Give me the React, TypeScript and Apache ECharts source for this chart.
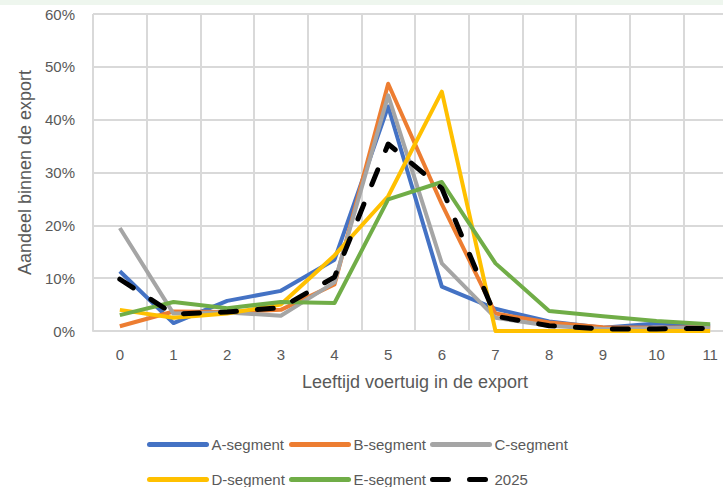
import React, { useEffect, useRef } from "react";
import * as echarts from "echarts";

// Vehicle age (years) at the moment of export
const ages = ["0", "1", "2", "3", "4", "5", "6", "7", "8", "9", "10", "11"];

// Share of the export per age, in percent
const aSegment = [11.3, 1.5, 5.7, 7.6, 13.5, 42.5, 8.4, 4.2, 1.8, 0.6, 1.4, 1.0];
const bSegment = [0.9, 3.7, 3.6, 4.0, 8.8, 46.8, 24.0, 3.3, 1.6, 0.7, 0.6, 0.7];
const cSegment = [19.5, 3.3, 3.5, 2.9, 9.2, 44.6, 12.8, 2.5, 1.0, 0.4, 0.5, 0.6];
const dSegment = [4.0, 2.5, 3.3, 5.0, 14.3, 25.5, 45.3, 0.0, 0.0, 0.0, 0.0, 0.0];
const eSegment = [3.0, 5.5, 4.3, 5.5, 5.3, 24.9, 28.2, 12.8, 3.8, 2.8, 1.9, 1.3];
const year2025 = [9.8, 3.2, 3.6, 4.4, 10.2, 35.4, 27.0, 2.8, 1.0, 0.4, 0.4, 0.5];

const yTicks = [0, 10, 20, 30, 40, 50, 60];

const FONT = "'Liberation Sans', Arial, sans-serif";
const TEXT = "#595959";
const GRID = "#d9d9d9";

const seriesDefs = [
  { name: "A-segment", data: aSegment, color: "#4472C4" },
  { name: "B-segment", data: bSegment, color: "#ED7D31" },
  { name: "C-segment", data: cSegment, color: "#A5A5A5" },
  { name: "D-segment", data: dSegment, color: "#FFC000" },
  { name: "E-segment", data: eSegment, color: "#70AD47" },
  { name: "2025", data: year2025, color: "#000000", dashed: true },
];

// Legend slots: three per row, two rows
const legendCols = [147, 289, 430];
const legendRows = [437, 472];

// The plot runs a little past the right edge of the visible frame
const VIEW_W = 723;
const VIEW_H = 487;
const CHART_W = 737;

export default function App() {
  const ref = useRef<HTMLDivElement>(null);

  useEffect(() => {
    if (!ref.current) return;
    const chart = echarts.init(ref.current, undefined, { renderer: "svg" });

    const legends = seriesDefs.map((s, i) => ({
      show: true,
      data: [s.name],
      left: legendCols[i % 3],
      top: legendRows[Math.floor(i / 3)],
      padding: 0,
      itemWidth: 57,
      itemHeight: 16,
      selectedMode: false,
      itemStyle: { opacity: 0, borderWidth: 0 },
      lineStyle: { width: 5, cap: "round" },
      textStyle: { color: TEXT, fontSize: 15, fontFamily: FONT },
    }));

    chart.setOption({
      animation: false,
      backgroundColor: "#ffffff",
      graphic: [
        {
          type: "rect",
          left: 0,
          top: 0,
          shape: { width: CHART_W, height: 5 },
          style: { fill: "#eef6ee" },
          silent: true,
        },
      ],
      grid: { left: 93, top: 14, right: 0, bottom: 156, containLabel: false },
      legend: legends,
      xAxis: {
        type: "category",
        data: ages,
        boundaryGap: true,
        name: "Leeftijd voertuig in de export",
        nameLocation: "middle",
        nameGap: 42,
        nameTextStyle: { color: TEXT, fontSize: 18, fontFamily: FONT },
        axisLine: { show: true, lineStyle: { color: GRID, width: 2 } },
        axisTick: { show: false },
        axisLabel: { color: TEXT, fontSize: 15, fontFamily: FONT, margin: 16 },
        splitLine: { show: true, lineStyle: { color: GRID, width: 2 } },
      },
      yAxis: {
        type: "value",
        min: yTicks[0],
        max: yTicks[yTicks.length - 1],
        interval: 10,
        name: "Aandeel binnen de export",
        nameLocation: "middle",
        nameRotate: 90,
        nameGap: 55,
        nameTextStyle: { color: TEXT, fontSize: 18, fontFamily: FONT },
        axisLine: { show: false },
        axisTick: { show: false },
        axisLabel: {
          color: TEXT,
          fontSize: 15,
          fontFamily: FONT,
          margin: 18,
          formatter: (v: number) => `${v}%`,
        },
        splitLine: { show: true, lineStyle: { color: GRID, width: 2 } },
      },
      series: seriesDefs.map((s) => ({
        name: s.name,
        type: "line",
        data: s.data,
        showSymbol: false,
        symbol: "none",
        color: s.color,
        lineStyle: s.dashed
          ? { color: s.color, width: 5, type: [16, 21], cap: "round", join: "round" }
          : { color: s.color, width: 4, cap: "butt", join: "round" },
        emphasis: { disabled: true },
      })),
    });

    return () => chart.dispose();
  }, []);

  return (
    <div
      style={{
        position: "fixed",
        left: 0,
        top: 0,
        width: VIEW_W,
        height: VIEW_H,
        overflow: "hidden",
        background: "#ffffff",
      }}
    >
      <div ref={ref} style={{ width: CHART_W, height: VIEW_H }} />
    </div>
  );
}
